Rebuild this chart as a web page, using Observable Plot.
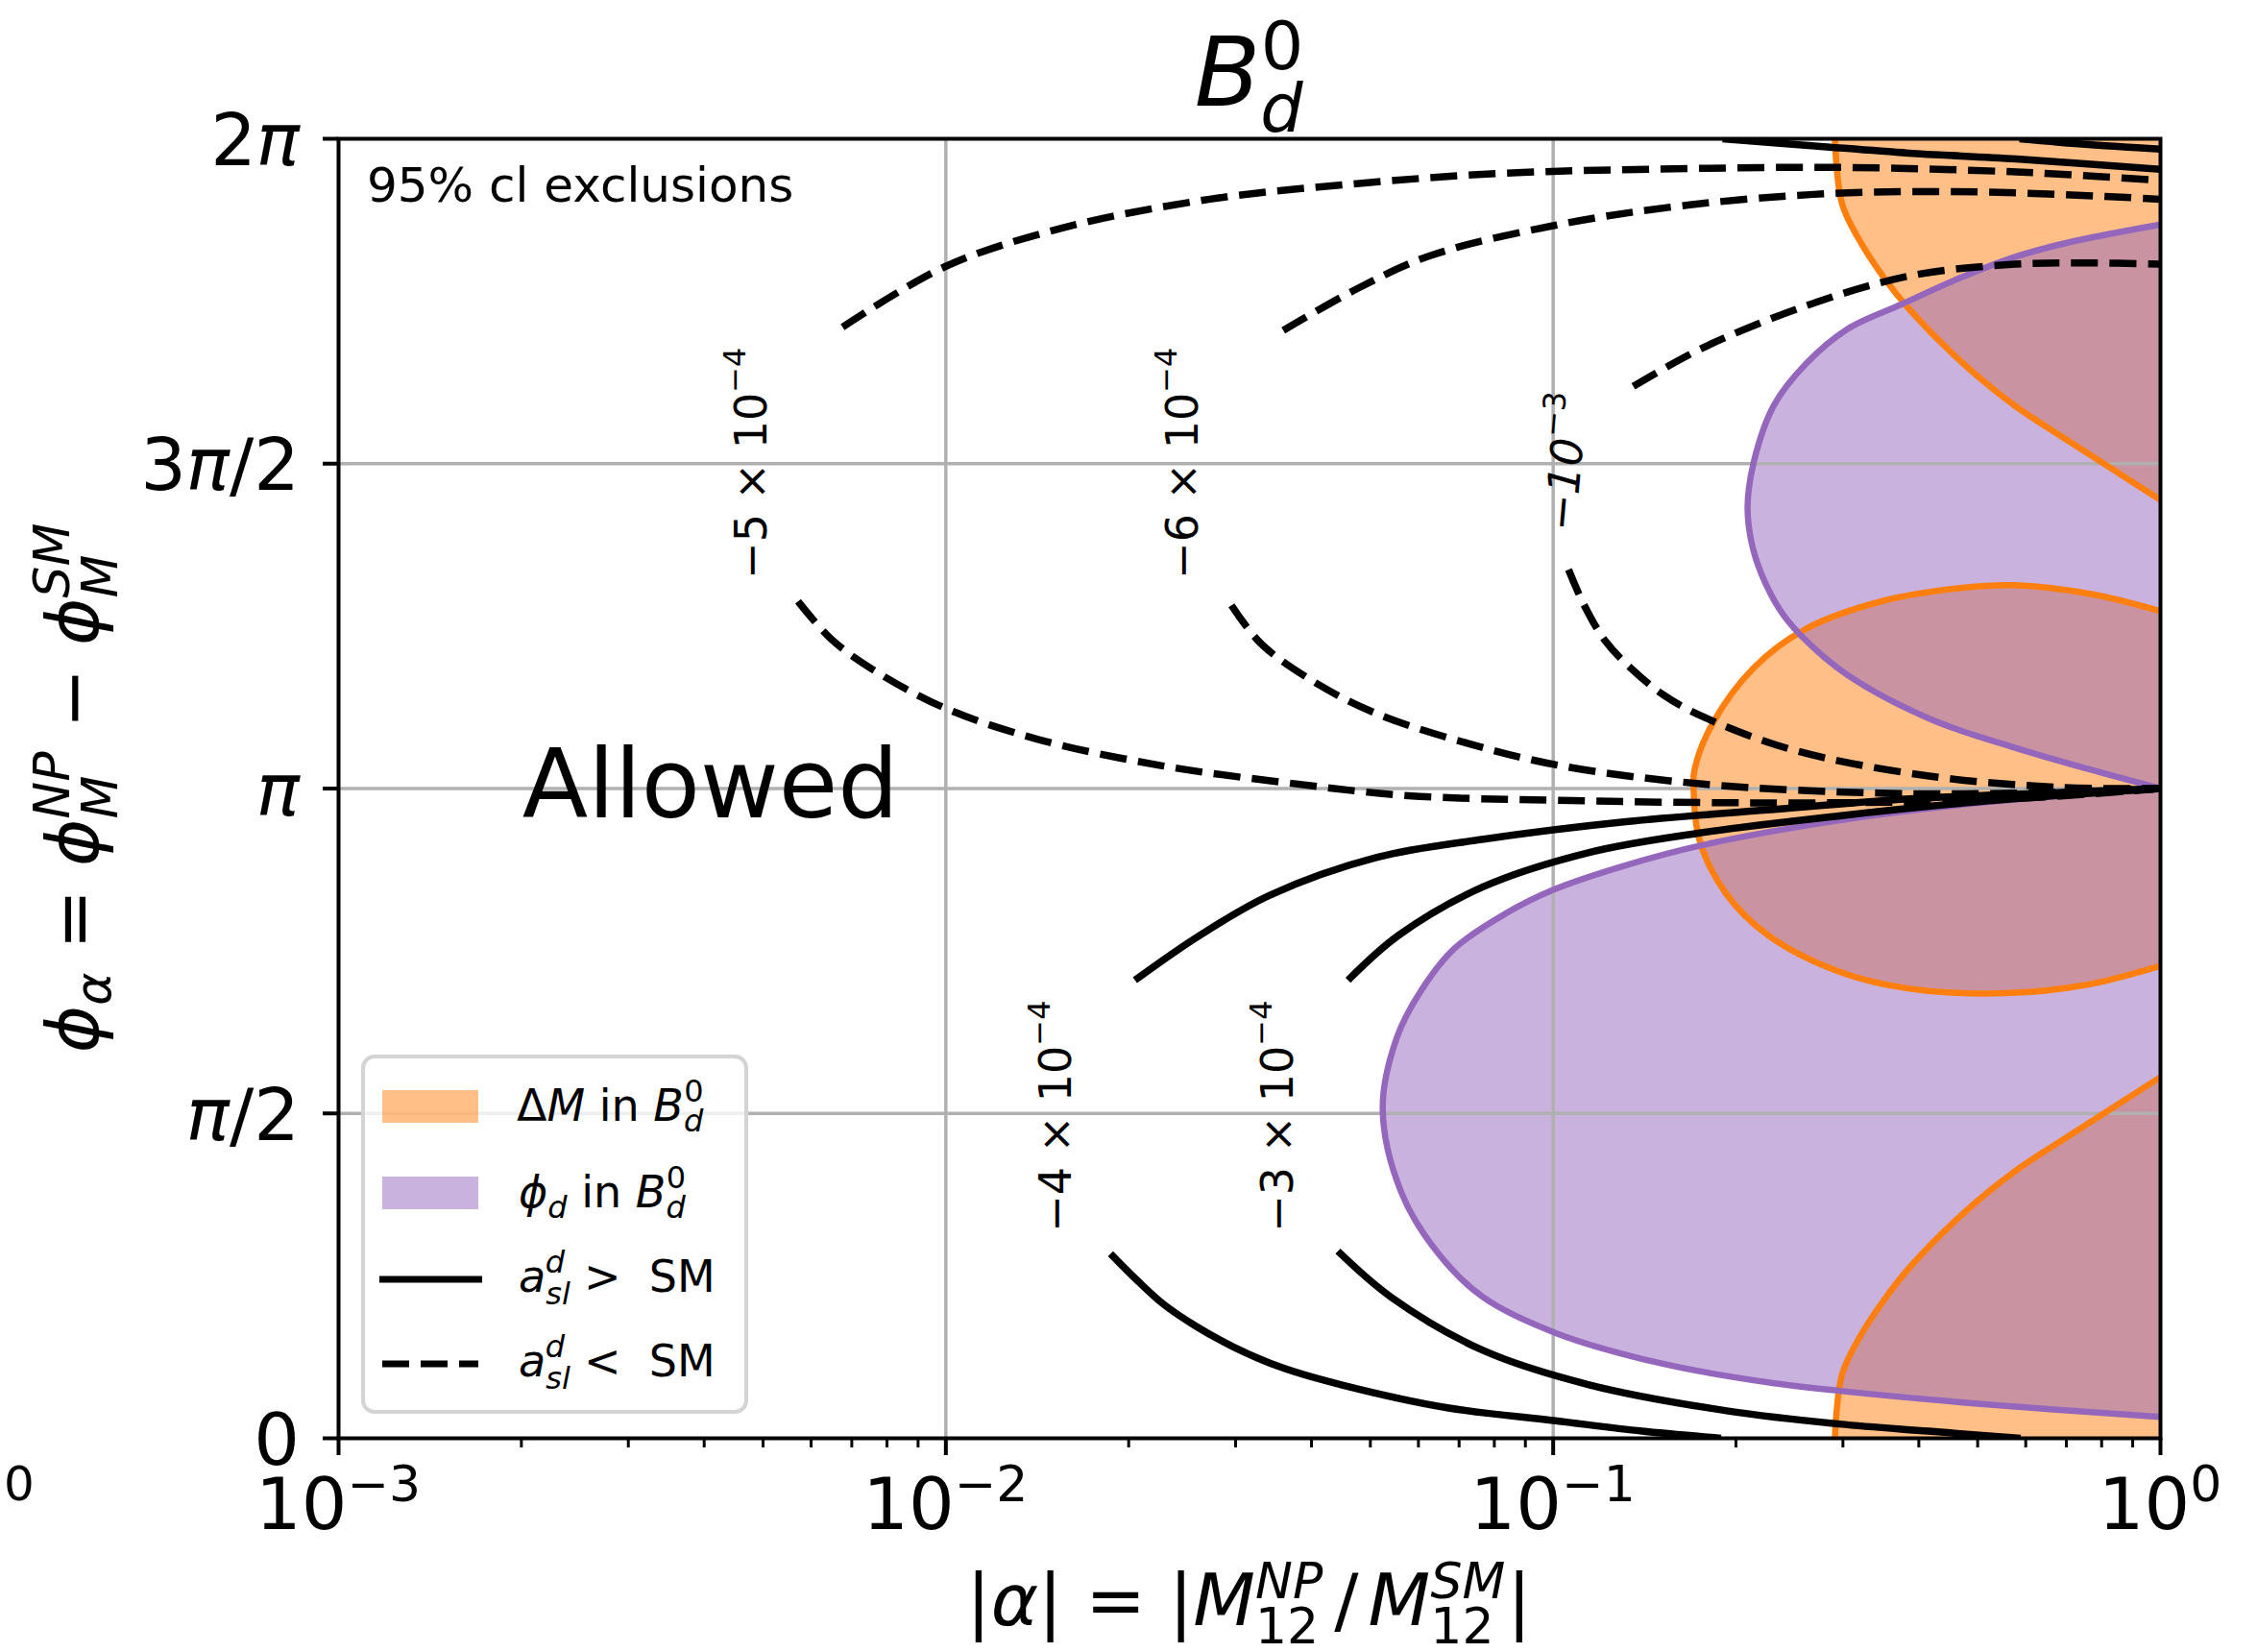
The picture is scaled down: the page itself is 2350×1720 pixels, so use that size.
<!DOCTYPE html>
<html><head><meta charset="utf-8">
<script src="https://cdn.jsdelivr.net/npm/d3@7"></script>
<script src="https://cdn.jsdelivr.net/npm/@observablehq/plot@0.6"></script>
<style>html,body{margin:0;padding:0;background:#fff;overflow:hidden}</style>
</head><body><div id="chart"></div>
<script>
// ---------- data (alpha = |M12^NP/M12^SM|, phi in units of pi) ----------
// Delta M exclusion (orange)
const dmLowerAlpha = [0.291, 0.299, 0.318, 0.350, 0.388, 0.472, 0.574, 0.700, 1.0];
const dmLowerPhi   = [0.000, 0.098, 0.152, 0.212, 0.265, 0.345, 0.410, 0.463, 0.556];
const dmUpperAlpha = [0.291, 0.299, 0.318, 0.350, 0.388, 0.472, 0.574, 0.700, 1.0];
const dmUpperPhi   = [2.000, 1.900, 1.847, 1.787, 1.735, 1.655, 1.590, 1.537, 1.444];
const dmMidTopAlpha = [0.1703, 0.1709, 0.183, 0.214, 0.261, 0.350, 0.472, 0.574, 0.773, 1.0];
const dmMidTopPhi   = [1.000, 1.029, 1.100, 1.186, 1.246, 1.289, 1.309, 1.313, 1.299, 1.273];
const dmMidBotAlpha = [0.1703, 0.174, 0.192, 0.226, 0.296, 0.386, 0.557, 0.757, 1.0];
const dmMidBotPhi   = [1.000, 0.922, 0.840, 0.774, 0.718, 0.692, 0.685, 0.698, 0.727];
// phi_d exclusion (purple)
const pdLowTopAlpha = [0.0524, 0.0553, 0.0607, 0.0688, 0.0833, 0.1006, 0.1318, 0.1761, 0.296, 0.505, 1.0];
const pdLowTopPhi   = [0.507, 0.617, 0.690, 0.754, 0.807, 0.845, 0.882, 0.913, 0.951, 0.978, 1.0];
const pdLowBotAlpha = [0.0524, 0.0562, 0.0645, 0.0767, 0.101, 0.151, 0.226, 0.296, 0.505, 1.0];
const pdLowBotPhi   = [0.507, 0.379, 0.286, 0.217, 0.162, 0.115, 0.086, 0.073, 0.053, 0.033];
const pdUpTopAlpha = [0.209, 0.214, 0.231, 0.261, 0.305, 0.374, 0.471, 0.575, 0.702, 1.0];
const pdUpTopPhi   = [1.435, 1.503, 1.590, 1.654, 1.707, 1.745, 1.787, 1.818, 1.840, 1.868];
const pdUpBotAlpha = [0.209, 0.212, 0.2203, 0.237, 0.255, 0.305, 0.420, 0.575, 0.760, 1.0];
const pdUpBotPhi   = [1.435, 1.380, 1.330, 1.273, 1.237, 1.175, 1.106, 1.063, 1.030, 1.0];
// a_sl contours, dashed (a_sl < SM)
const c5UpAlpha = [0.00676, 0.00996, 0.0156, 0.0272, 0.0475, 0.0829, 0.1446, 0.2878, 0.579, 1.0];
const c5UpPhi   = [1.710, 1.803, 1.863, 1.907, 1.931, 1.947, 1.953, 1.956, 1.949, 1.936];
const c5LoAlpha = [0.00571, 0.00651, 0.00783, 0.01007, 0.01428, 0.02272, 0.03634, 0.0578, 0.1009, 0.2085, 0.4104, 0.6457, 1.0];
const c5LoPhi   = [1.288, 1.228, 1.175, 1.122, 1.075, 1.035, 1.009, 0.989, 0.982, 0.978, 0.980, 0.987, 1.0];
const c6UpAlpha = [0.03594, 0.0475, 0.0627, 0.1009, 0.1667, 0.2909, 0.519, 1.0];
const c6UpPhi   = [1.705, 1.769, 1.820, 1.867, 1.898, 1.916, 1.918, 1.907];
const c6LoAlpha = [0.02953, 0.03311, 0.04075, 0.05126, 0.07269, 0.1031, 0.1761, 0.3445, 0.579, 1.0];
const c6LoPhi   = [1.282, 1.222, 1.162, 1.115, 1.069, 1.035, 1.007, 0.993, 0.993, 1.0];
const c10UpAlpha = [0.1355, 0.1761, 0.2609, 0.3865, 0.5758, 0.7607, 1.0];
const c10UpPhi   = [1.619, 1.678, 1.743, 1.789, 1.807, 1.809, 1.807];
const c10LoAlpha = [0.1060, 0.1125, 0.1221, 0.1340, 0.1520, 0.1761, 0.2470, 0.4104, 0.6783, 1.0];
const c10LoPhi   = [1.337, 1.282, 1.226, 1.186, 1.144, 1.111, 1.060, 1.020, 1.002, 1.0];
// a_sl contours, solid (a_sl > SM)
const c4UpAlpha = [0.02048, 0.02619, 0.03421, 0.05126, 0.07677, 0.1318, 0.2251, 0.3865, 0.6457, 1.0];
const c4UpPhi   = [0.705, 0.774, 0.836, 0.894, 0.922, 0.949, 0.967, 0.984, 0.993, 1.0];
const c4LoAlpha = [0.01867, 0.02071, 0.02285, 0.02576, 0.02985, 0.03573, 0.04496, 0.06697, 0.1009, 0.1400, 0.1890];
const c4LoPhi   = [0.284, 0.242, 0.206, 0.173, 0.140, 0.109, 0.082, 0.047, 0.027, 0.011, 0.0];
const c4TopAlpha = [0.1900, 0.2696, 0.3845, 0.579, 1.0];
const c4TopPhi   = [2.0, 1.989, 1.978, 1.969, 1.953];
const c3UpAlpha = [0.04595, 0.05563, 0.07677, 0.1150, 0.1722, 0.2958, 0.505, 1.0];
const c3UpPhi   = [0.705, 0.774, 0.849, 0.902, 0.931, 0.958, 0.980, 1.0];
const c3LoAlpha = [0.04422, 0.05414, 0.07677, 0.1150, 0.1942, 0.2958, 0.4150, 0.5885];
const c3LoPhi   = [0.288, 0.217, 0.135, 0.082, 0.042, 0.022, 0.011, 0.0];
const c3TopAlpha = [0.586, 0.7607, 1.0];
const c3TopPhi   = [2.0, 1.991, 1.984];
// contour labels
const labelAlpha = [0.004778, 0.02454, 0.1051, 0.01517, 0.03516];
const labelPhi   = [1.5, 1.5, 1.5, 0.495, 0.495];
const labelBase  = ["−5 × 10", "−6 × 10", "−10", "−4 × 10", "−3 × 10"];
const labelExp   = ["−4", "−4", "−3", "−4", "−4"];
// ticks
const xMajor = [0.001, 0.01, 0.1, 1];
const xMajorExp = ["−3", "−2", "−1", "0"];
const xMinor = [0.002,0.003,0.004,0.005,0.006,0.007,0.008,0.009,0.02,0.03,0.04,0.05,0.06,0.07,0.08,0.09,0.2,0.3,0.4,0.5,0.6,0.7,0.8,0.9];
const yMajor = [0, 0.5, 1, 1.5, 2];
const yMajorLabel = ["0", "π/2", "π", "3π/2", "2π"];

// ---------- build geometry ----------
const pts = (as, ps) => as.map((a, i) => ({a, p: ps[i]}));
const rev = arr => arr.slice().reverse();
const dmLower = pts(dmLowerAlpha, dmLowerPhi), dmUpper = pts(dmUpperAlpha, dmUpperPhi);
const dmMidTop = pts(dmMidTopAlpha, dmMidTopPhi), dmMidBot = pts(dmMidBotAlpha, dmMidBotPhi);
const pdLowTop = pts(pdLowTopAlpha, pdLowTopPhi), pdLowBot = pts(pdLowBotAlpha, pdLowBotPhi);
const pdUpTop = pts(pdUpTopAlpha, pdUpTopPhi), pdUpBot = pts(pdUpBotAlpha, pdUpBotPhi);

const dmMidEdge = [...rev(dmMidTop), ...dmMidBot.slice(1)];
const pdLowEdge = [...rev(pdLowTop), ...pdLowBot.slice(1)];
const pdUpEdge = [...rev(pdUpTop), ...pdUpBot.slice(1)];

const dashed = [pts(c5UpAlpha, c5UpPhi), pts(c5LoAlpha, c5LoPhi), pts(c6UpAlpha, c6UpPhi), pts(c6LoAlpha, c6LoPhi), pts(c10UpAlpha, c10UpPhi), pts(c10LoAlpha, c10LoPhi)];
const solid = [pts(c4UpAlpha, c4UpPhi), pts(c4LoAlpha, c4LoPhi), pts(c4TopAlpha, c4TopPhi), pts(c3UpAlpha, c3UpPhi), pts(c3LoAlpha, c3LoPhi), pts(c3TopAlpha, c3TopPhi)];

const ORANGE = "#ff7f0e", PURPLE = "#9467bd";
const CURVE = "catmull-rom";
const marks = [];
// fills
marks.push(Plot.areaY(dmLower, {x: "a", y1: 0, y2: "p", curve: CURVE, fill: ORANGE, fillOpacity: 0.5, clip: true}));
marks.push(Plot.areaY(dmUpper, {x: "a", y1: "p", y2: 2, curve: CURVE, fill: ORANGE, fillOpacity: 0.5, clip: true}));
marks.push(Plot.line(dmMidEdge, {x: "a", y: "p", curve: CURVE, fill: ORANGE, fillOpacity: 0.5, stroke: "none", clip: true}));
for (const f of [pdLowEdge, pdUpEdge]) marks.push(Plot.line(f, {x: "a", y: "p", curve: CURVE, fill: PURPLE, fillOpacity: 0.5, stroke: "none", clip: true}));
// grid
marks.push(Plot.gridX({ticks: [0.01, 0.1], stroke: "#b0b0b0", strokeOpacity: 1, strokeWidth: 3.5}));
marks.push(Plot.gridY({ticks: [0.5, 1, 1.5], stroke: "#b0b0b0", strokeOpacity: 1, strokeWidth: 3.5}));
// edges
for (const e of [dmLower, dmUpper, dmMidEdge]) marks.push(Plot.line(e, {x: "a", y: "p", curve: CURVE, stroke: ORANGE, strokeWidth: 6.5, clip: true}));
for (const e of [pdLowEdge, pdUpEdge]) marks.push(Plot.line(e, {x: "a", y: "p", curve: CURVE, stroke: PURPLE, strokeWidth: 6.5, clip: true}));
// a_sl contours
for (const c of dashed) marks.push(Plot.line(c, {x: "a", y: "p", curve: CURVE, stroke: "black", strokeWidth: 7.5, strokeDasharray: "28,12", strokeLinecap: "butt", clip: true}));
for (const c of solid) marks.push(Plot.line(c, {x: "a", y: "p", curve: CURVE, stroke: "black", strokeWidth: 7.5, strokeLinecap: "butt", clip: true}));
// frame and axes
marks.push(Plot.frame({stroke: "black", strokeWidth: 4}));
marks.push(Plot.axisX({ticks: xMajor, anchor: "bottom", tickSize: 18, strokeWidth: 4, tickFormat: () => "", label: null}));
marks.push(Plot.axisX({ticks: xMinor, anchor: "bottom", tickSize: 10, strokeWidth: 3, tickFormat: () => "", label: null}));
marks.push(Plot.axisY({ticks: yMajor, anchor: "left", tickSize: 16, strokeWidth: 4, tickFormat: () => "", label: null}));

const plot = Plot.plot({
  width: 2350, height: 1720,
  marginLeft: 352, marginRight: 101, marginTop: 144, marginBottom: 223,
  x: {type: "log", domain: [0.001, 1]},
  y: {domain: [0, 2]},
  style: {fontFamily: "DejaVu Sans", background: "white", overflow: "visible"},
  marks
});
document.getElementById("chart").appendChild(plot);

// ---------- text (positioned through the plot's scales) ----------
const sx = plot.scale("x"), sy = plot.scale("y");
const X = v => sx.apply(v), Y = v => sy.apply(v);
const svg = d3.select(plot);

function addText({x, y, parts, size, anchor = "start", rotate = 0}) {
  const t = svg.append("text")
    .attr("transform", `translate(${x},${y})` + (rotate ? ` rotate(${rotate})` : ""))
    .attr("text-anchor", anchor)
    .style("font-family", "'DejaVu Sans'")
    .style("font-size", size + "px")
    .style("white-space", "pre")
    .attr("fill", "black");
  let cur = 0;
  for (const p of parts) {
    const s = typeof p === "string" ? {t: p} : p;
    const up = s.up || 0;
    const ts = t.append("tspan").style("font-size", (s.size || size) + "px");
    if (up !== cur) ts.attr("dy", cur - up);
    if (s.dx) ts.attr("dx", s.dx);
    if (s.it) ts.style("font-style", "italic");
    ts.text(s.t);
    cur = up;
  }
  return t;
}
const piParts = str => {
  const out = [];
  str.split(/(π)/).forEach(s => { if (s === "π") out.push({t: "π", it: true}); else if (s) out.push(s); });
  return out;
};

const x0 = X(0.001), x1 = X(1), yb = Y(0), yt = Y(2);
const cx = (x0 + x1) / 2, cy = (yb + yt) / 2;

// title
addText({x: cx, y: yt - 34, anchor: "middle", size: 100,
  parts: [{t: "B", it: true}, {t: "d", it: true, size: 70, up: -27}, {t: "0", size: 70, up: 38, dx: -44}]});

// x tick labels
xMajor.forEach((v, i) => addText({x: X(v), y: yb + 95, anchor: "middle", size: 75,
  parts: ["10", {t: xMajorExp[i], size: 52, up: 29}]}));
// y tick labels
yMajor.forEach((v, i) => addText({x: x0 - 40, y: Y(v) + 28, anchor: "end", size: 75, parts: piParts(yMajorLabel[i])}));

// x label
addText({x: cx, y: yb + 195, anchor: "middle", size: 75, parts: [
  "|", {t: "α", it: true}, "| = |", {t: "M", it: true},
  {t: "12", size: 52, up: -19}, {t: "NP", it: true, size: 52, up: 28, dx: -66},
  {t: "/", dx: 12}, {t: "M", it: true, dx: 10},
  {t: "12", size: 52, up: -19}, {t: "SM", it: true, size: 52, up: 28, dx: -66}, {t: "|", dx: 2}
]});
// y label
addText({x: 102, y: cy, anchor: "middle", size: 75, rotate: -90, parts: [
  {t: "ϕ", it: true}, {t: "α", it: true, size: 52, up: -13}, " = ",
  {t: "ϕ", it: true}, {t: "M", it: true, size: 52, up: -20}, {t: "NP", it: true, size: 52, up: 30, dx: -45},
  " − ",
  {t: "ϕ", it: true}, {t: "M", it: true, size: 52, up: -20}, {t: "SM", it: true, size: 52, up: 30, dx: -45}
]});

// annotations
addText({x: x0 + 30, y: yt + 66, size: 50, parts: ["95% cl exclusions"]});
addText({x: X(0.00201), y: Y(0.955), size: 100, parts: ["Allowed"]});
addText({x: 20, y: 1562, anchor: "middle", size: 50, parts: ["0"]});

// contour labels
labelAlpha.forEach((a, i) => {
  const isE3 = labelBase[i] === "−10";
  addText({x: X(a) + 16, y: Y(labelPhi[i]), anchor: "middle", size: 46, rotate: isE3 ? -85 : -90,
    parts: [{t: labelBase[i], it: isE3}, {t: labelExp[i], size: 32, up: 22}]});
});

// legend
const lg = svg.append("g");
lg.append("rect").attr("x", 378).attr("y", 1100).attr("width", 399).attr("height", 370)
  .attr("rx", 12).attr("fill", "white").attr("fill-opacity", 0.8)
  .attr("stroke", "#d4d4d4").attr("stroke-width", 4);
lg.append("rect").attr("x", 398).attr("y", 1135).attr("width", 100).attr("height", 34).attr("fill", ORANGE).attr("fill-opacity", 0.5);
lg.append("rect").attr("x", 398).attr("y", 1225).attr("width", 100).attr("height", 34).attr("fill", PURPLE).attr("fill-opacity", 0.5);
lg.append("line").attr("x1", 395).attr("x2", 502).attr("y1", 1332).attr("y2", 1332).attr("stroke", "black").attr("stroke-width", 7);
lg.append("line").attr("x1", 398).attr("x2", 498).attr("y1", 1420).attr("y2", 1420).attr("stroke", "black").attr("stroke-width", 7).attr("stroke-dasharray", "28,12");
addText({x: 538, y: 1167, size: 46, parts: ["Δ", {t: "M", it: true}, " in ", {t: "B", it: true},
  {t: "d", it: true, size: 32, up: -11}, {t: "0", size: 32, up: 20, dx: -20}]});
addText({x: 540, y: 1257, size: 46, parts: [{t: "ϕ", it: true}, {t: "d", it: true, size: 32, up: -11}, " in ", {t: "B", it: true},
  {t: "d", it: true, size: 32, up: -11}, {t: "0", size: 32, up: 20, dx: -20}]});
addText({x: 540, y: 1345, size: 46, parts: [{t: "a", it: true}, {t: "sl", it: true, size: 32, up: -13},
  {t: "d", it: true, size: 32, up: 20, dx: -26}, {t: ">", dx: 20}, "  SM"]});
addText({x: 540, y: 1433, size: 46, parts: [{t: "a", it: true}, {t: "sl", it: true, size: 32, up: -13},
  {t: "d", it: true, size: 32, up: 20, dx: -26}, {t: "<", dx: 20}, "  SM"]});
</script></body></html>
